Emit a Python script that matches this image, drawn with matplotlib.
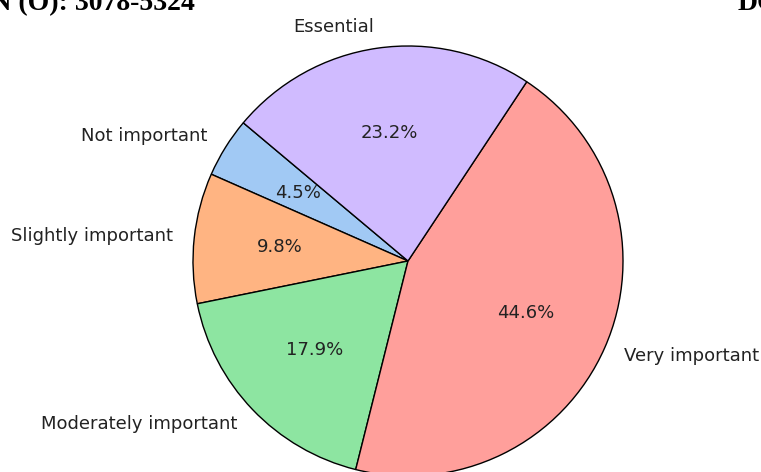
import matplotlib
matplotlib.use("Agg")
import matplotlib.pyplot as plt

categories = ["Not important", "Slightly important", "Moderately important",
              "Very important", "Essential"]
shares = [4.5, 9.8, 17.9, 44.6, 23.2]
colors = ["#a1c9f4", "#ffb482", "#8de5a1", "#ff9f9b", "#d0bbff"]
header_left = "ISSN (O): 3078-5324"
header_right = "DOI"

W, H = 761, 472
fig = plt.figure(figsize=(W / 100, H / 100), dpi=100)
cx, cy, r = 408, 211, 215  # center (from bottom), radius in px
half = 1.25 * r
ax = fig.add_axes([(cx - half) / W, (cy - half) / H, 2 * half / W, 2 * half / H])
wedges, texts, autotexts = ax.pie(
    shares, labels=categories, colors=colors, startangle=140,
    autopct="%1.1f%%", wedgeprops=dict(edgecolor="black", linewidth=1),
    textprops=dict(fontsize=13, color="#222222"))
for t in texts:
    t.set_color("#222222")
ax.set_xlim(-1.25, 1.25)
ax.set_ylim(-1.25, 1.25)

fig.text(195 / W, 1 - 10 / H, header_left, fontsize=20, fontweight="bold",
         family="Liberation Serif", ha="right", va="baseline", color="black")
fig.text(738 / W, 1 - 10 / H, header_right, fontsize=20, fontweight="bold",
         family="Liberation Serif", ha="left", va="baseline", color="black")

fig.savefig("out.png", dpi=100)
